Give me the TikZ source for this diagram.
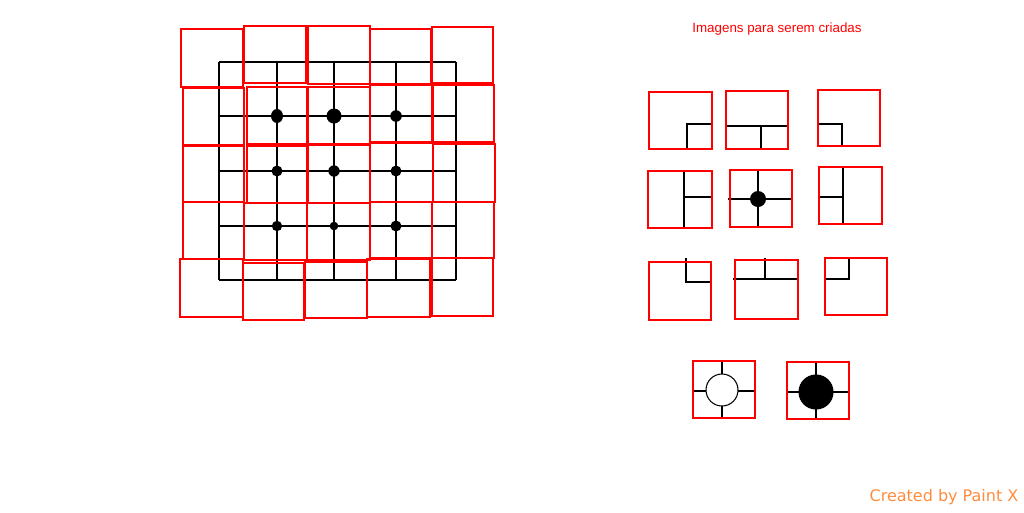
\documentclass[tikz,border=0pt]{standalone}
\usepackage{fontspec}
\setmainfont{Liberation Sans}
\newfontfamily\creditfont{DejaVu Sans}
\usetikzlibrary{positioning}
\definecolor{paintorange}{RGB}{255,140,60}

\begin{document}
\begin{tikzpicture}[x=0.02cm, y=-0.02cm,
    tile/.style={draw=red, line width=1.3pt},
    wire/.style={draw=black, line width=1.3pt},
    stone/.style={circle, draw=black, inner sep=0pt, line width=0.6pt},
    heading/.style={text=red, font=\fontsize{7.6}{9}\selectfont}
]
\useasboundingbox (0,0) rectangle (1024,512);

\draw[wire] (219,62) -- (456,62) (219,116) -- (456,116) (219,171) -- (456,171) (219,226) -- (456,226) (219,280) -- (456,280);
\draw[wire] (219,62) -- (219,280) (277,62) -- (277,280) (334,62) -- (334,280) (396,62) -- (396,280) (456,62) -- (456,280);

\draw[tile] (181,29) rectangle (243,87) (244,26) rectangle (306,83) (308,26) rectangle (370,84) (370,29) rectangle (431,84) (432,27) rectangle (493,83);
\draw[tile] (183,88) rectangle (244,145) (247,87) rectangle (307,144) (308,87) rectangle (370,144) (370,85) rectangle (432,142) (433,85) rectangle (494,142);
\draw[tile] (183,146) rectangle (244,202) (247,146) rectangle (307,203) (308,145) rectangle (370,203) (370,143) rectangle (433,202) (433,144) rectangle (495,202);
\draw[tile] (183,202) rectangle (244,259) (244,203) rectangle (307,260) (307,203) rectangle (370,260) (370,202) rectangle (432,258) (432,202) rectangle (494,258);
\draw[tile] (180,259) rectangle (243,317) (243,263) rectangle (304,320) (305,262) rectangle (367,318) (367,259) rectangle (430,317) (432,258) rectangle (493,316);

\fill (277,116) ellipse [x radius=6, y radius=7];
\fill (334,116) circle [radius=7.5];
\fill (396,116) circle [radius=5.8];
\fill (277,171) circle [radius=5.5];
\fill (334,171) circle [radius=5.7];
\fill (396,171) circle [radius=5.5];
\fill (277,226) circle [radius=5.2];
\fill (334,226) circle [radius=4.3];
\fill (396,226) circle [radius=5.5];

\node (title) [heading] at (777,29) {Imagens para serem criadas};

\draw[wire] (687,149) -- (687,124) -- (712,124);
\draw[tile] (649,92) rectangle (712,149);
\draw[wire] (726,126) -- (788,126) (761,126) -- (761,149);
\draw[tile] (726,91) rectangle (788,149);
\draw[wire] (818,124) -- (842,124) -- (842,146);
\draw[tile] (818,90) rectangle (880,146);

\draw[wire] (684,170) -- (684,228) (684,197) -- (712,197);
\draw[tile] (648,171) rectangle (712,228);
\draw[wire] (758,170) -- (758,227) (728,199) -- (792,199);
\draw[tile] (730,170) rectangle (792,227);
\fill (758,199) circle [radius=8];
\draw[wire] (843,167) -- (843,224) (819,197) -- (843,197);
\draw[tile] (819,167) rectangle (882,224);

\draw[wire] (686,258) -- (686,282) -- (711,282);
\draw[tile] (649,262) rectangle (711,320);
\draw[wire] (733,279) -- (798,279) (765,258) -- (765,279);
\draw[tile] (735,260) rectangle (798,319);
\draw[wire] (825,279) -- (849,279) -- (849,258);
\draw[tile] (825,258) rectangle (887,315);

\draw[wire] (722,361) -- (722,418) (693,391) -- (755,391);
\draw[tile] (693,361) rectangle (755,418);
\node (white) [stone, fill=white, minimum size=0.64cm] at (722,390) {};
\draw[wire] (816,362) -- (816,419) (787,392) -- (849,392);
\draw[tile] (787,362) rectangle (849,419);
\node (black) [stone, fill=black, minimum size=0.68cm] at (816,392) {};

\node (credit) [text=paintorange, font=\creditfont\fontsize{9.1}{11}\selectfont] at (944,497) {Created by Paint X};
\end{tikzpicture}
\end{document}
